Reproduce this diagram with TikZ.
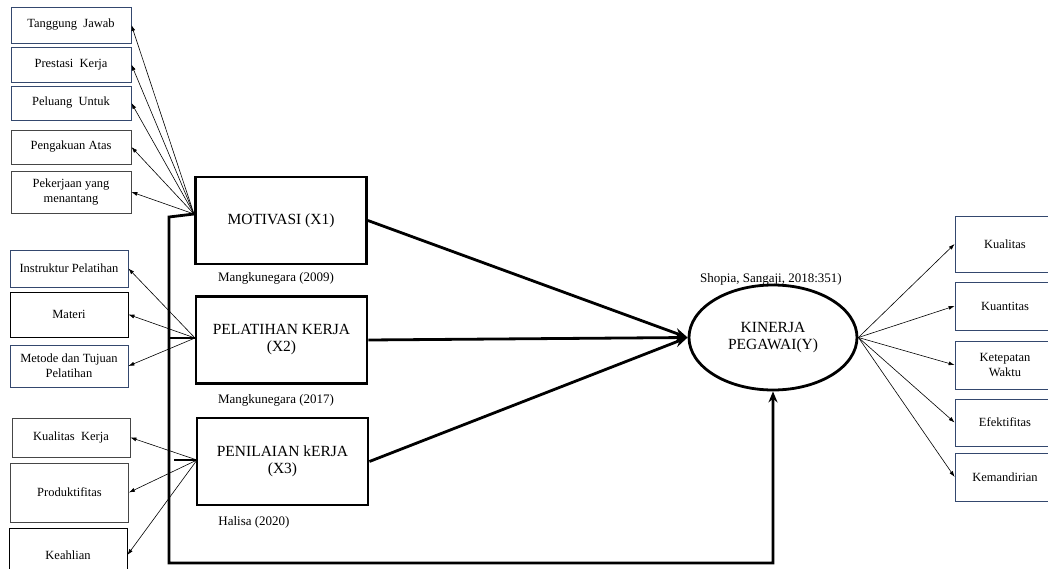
\documentclass[tikz,border=0pt]{standalone}
\usepackage{fontspec}
\setmainfont{Liberation Serif}
\usetikzlibrary{positioning,arrows.meta,shapes.geometric}
\definecolor{boxblue}{RGB}{52,72,110}
\definecolor{boxgray}{RGB}{70,70,70}
\tikzset{
    indbox/.style={draw, line width=0.8pt, minimum width=120pt, align=center,
        inner sep=1pt, font=\fontsize{12.5}{15}\selectfont},
    varbox/.style={draw, line width=2.8pt, minimum width=171pt, minimum height=87pt,
        align=center, font=\fontsize{15.5}{17}\selectfont},
    cite/.style={font=\fontsize{13}{15}\selectfont},
    thk/.style={line width=2.8pt},
    thn/.style={line width=0.6pt, -{Latex[length=6pt,width=4pt]}}
}

\begin{document}
\begin{tikzpicture}[x=1pt,y=-1pt]
    \useasboundingbox (0,0) rectangle (1048,569);
    \clip (0,0) rectangle (1048,569);
    % indikator
    \foreach \y/\h/\c/\t [count=\i] in {25/36/boxblue/{Tanggung\ \ Jawab}, 64.5/35/boxblue/{Prestasi\ \ Kerja},
        103/34/boxblue/{Peluang\ \ Untuk}, 147/34/boxgray/{Pengakuan Atas}, 192/42/boxgray/{Pekerjaan yang\\menantang}}
        \node[indbox, draw=\c, minimum height=\h pt] (M\i) at (71,\y) {\t};
    \foreach \y/\h/\c/\t [count=\i] in {268.5/37/boxblue/{Instruktur Pelatihan}, 314.5/45/black/{Materi},
        366/42/boxblue/{Metode dan Tujuan\\Pelatihan}}
        \node[indbox, draw=\c, minimum width=118pt, minimum height=\h pt] (P\i) at (69,\y) {\t};
    \foreach \y/\h/\x/\c/\t [count=\i] in {437.5/39/71/boxgray/{Kualitas\ \ Kerja}, 492.5/59/69.5/boxgray/{Produktifitas},
        555/54/68/black/{Keahlian}}
        \node[indbox, draw=\c, minimum width=118pt, minimum height=\h pt] (N\i) at (\x,\y) {\t};
    \foreach \y/\h/\t [count=\i] in {244/56/{Kualitas}, 306/48/{Kuantitas}, 365/48/{Ketepatan\\Waktu},
        422.5/47/{Efektifitas}, 477/48/{Kemandirian}}
        \node[indbox, draw=boxblue, minimum width=100pt, minimum height=\h pt] (K\i) at (1005,\y) {\t};
    % variabel
    \node[varbox] (X1) at (281,220.5) {MOTIVASI (X1)};
    \node[varbox] (X2) at (281.5,340) {PELATIHAN KERJA\\(X2)};
    \node[varbox] (X3) at (282.5,461.5) {PENILAIAN kERJA\\(X3)};
    \node[ellipse, draw, line width=2.8pt, minimum width=168pt, minimum height=105pt, inner sep=0pt,
        align=center, font=\fontsize{15.5}{17}\selectfont] (Y) at (773,337.5) {KINERJA\\PEGAWAI(Y)};
    \node[cite] (S1) at (276,278) {Mangkunegara (2009)};
    \node[cite] (S2) at (276,400) {Mangkunegara (2017)};
    \node[cite] (S3) at (254,522) {Halisa (2020)};
    \node[cite] (S4) at (771,279) {Shopia, Sangaji, 2018:351)};
    \coordinate (o1) at (194,214);
    \coordinate (o2) at (195,338);
    \coordinate (o3) at (197,460);
    \coordinate (c1) at (169,217);
    \coordinate (c2) at (169,563);
    \coordinate (c3) at (169,338);
    \coordinate (c4) at (174,460);
    % panah
    \foreach \i in {1,...,5} \draw[thn] (o1) -- (M\i.east);
    \foreach \i in {1,2,3} \draw[thn] (o2) -- (P\i.east);
    \foreach \i in {1,2,3} \draw[thn] (o3) -- (N\i.east);
    \foreach \i in {1,...,5} \draw[thn] (Y.east) -- (K\i.west);
    \foreach \i in {1,2,3} \draw[thk, -{Stealth[length=13pt,width=10pt]}] (X\i.east) -- (Y.west);
    \draw[thk, -{Stealth[length=11pt,width=9pt]}] (o1) -- (c1) -- (c2) -| (Y.south);
    \draw[thk] (c3) -- (o2);
    \draw[thk] (c4) -- (o3);
\end{tikzpicture}
\end{document}
